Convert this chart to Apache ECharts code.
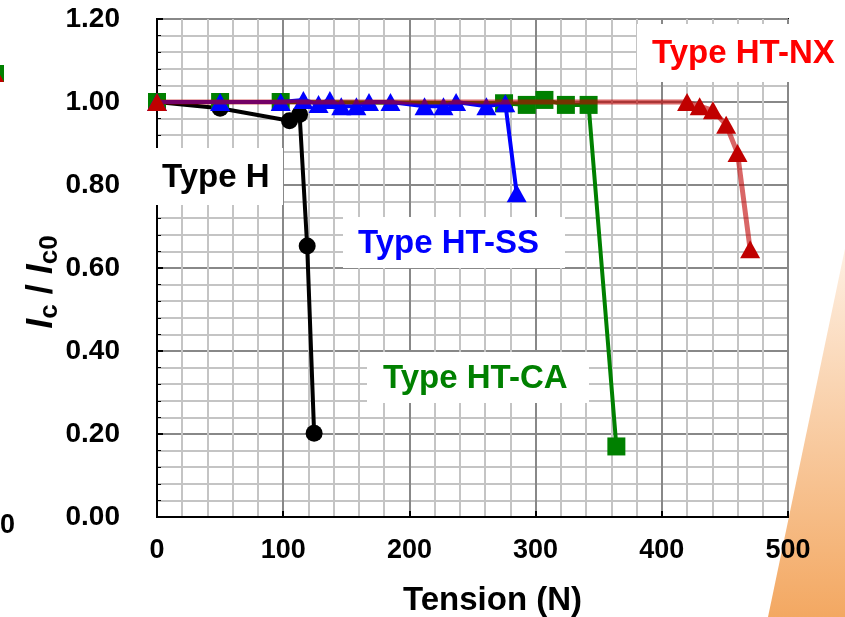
<!DOCTYPE html>
<html>
<head>
<meta charset="utf-8">
<script src="https://cdn.jsdelivr.net/npm/echarts@6/dist/echarts.min.js"></script>
<style>
html,body{margin:0;padding:0;background:#fff;}
#chart{width:845px;height:617px;}
</style>
</head>
<body>
<div id="chart"></div>
<script>
// Tension (N), Ic/Ic0
const typeH    = [[0,1.0],[50,0.985],[105,0.955],[113,0.97],[119,0.653],[124.5,0.202]];
const typeHTCA = [[0,1.0],[50,1.0],[98,1.0],[275,0.997],[293,0.993],[307,1.005],[324,0.993],[342,0.993],[364,0.17]];
const typeHTSS = [[0,1.0],[50,1.0],[98,1.0],[116,1.005],[128,0.995],[137,1.005],[146,0.99],[158,0.99],[168,1.0],[185,1.0],[212,0.99],[227,0.99],[237,1.0],[261,0.99],[276,0.997],[285,0.78]];
const typeHTNX = [[0,1.0],[420,1.0],[430,0.99],[440.5,0.98],[451,0.945],[460,0.877],[470,0.645]];
const seriesNames = ['Type H','Type HT-SS','Type HT-CA','Type HT-NX'];

const FONT = "'Liberation Sans', Arial, sans-serif";
const chart = echarts.init(document.getElementById('chart'), null, {renderer:'canvas'});

function box(x,y,w,h,label,color,tx){
  return [
    {type:'rect', z:100, shape:{x:x,y:y,width:w,height:h}, style:{fill:'#fff'}},
    {type:'text', z:101, x:tx, y:y+h/2+1, style:{text:label, fill:color, font:'bold 33px '+FONT, textVerticalAlign:'middle'}}
  ];
}

chart.setOption({
  animation:false,
  backgroundColor:'#fff',
  grid:{left:157, top:19, right:57, bottom:100, containLabel:false, outerBoundsMode:'none',
    show:true, borderColor:'#000', borderWidth:2, backgroundColor:'transparent'},
  xAxis:{
    type:'value', min:0, max:500, interval:100,
    axisLine:{show:true, onZero:false, lineStyle:{color:'#000', width:2}},
    axisTick:{show:true, inside:true, length:6, lineStyle:{color:'#000', width:2}},
    minorTick:{show:false, splitNumber:5},
    splitLine:{show:true, lineStyle:{color:'#888', width:2}},
    minorSplitLine:{show:true, lineStyle:{color:'#c4c4c4', width:2}},
    axisLabel:{color:'#000', fontSize:27, fontWeight:'bold', fontFamily:FONT, margin:20},
    name:'Tension (N)', nameLocation:'middle', nameGap:67,
    nameTextStyle:{color:'#000', fontSize:33, fontWeight:'bold', fontFamily:FONT, verticalAlign:'top', padding:[0,0,0,40]}
  },
  yAxis:{
    type:'value', min:0, max:1.2, interval:0.2,
    axisLine:{show:true, lineStyle:{color:'#000', width:2}},
    axisTick:{show:true, inside:true, length:6, lineStyle:{color:'#000', width:2}},
    minorTick:{show:true, splitNumber:5, length:4, lineStyle:{color:'#000', width:1}},
    splitLine:{show:true, lineStyle:{color:'#888', width:2}},
    minorSplitLine:{show:true, lineStyle:{color:'#c4c4c4', width:2}},
    axisLabel:{color:'#000', fontSize:28, fontWeight:'bold', fontFamily:FONT, margin:37, formatter:v=>v.toFixed(2)}
  },
  series:[
    {name:seriesNames[0], type:'line', data:typeH, symbol:'circle', symbolSize:17, z:2,
      itemStyle:{color:'#000'}, lineStyle:{color:'#000', width:4}},
    {name:seriesNames[2], type:'line', data:typeHTCA, symbol:'rect', symbolSize:18, z:3,
      itemStyle:{color:'#008000'}, lineStyle:{color:'#008000', width:4}},
    {name:seriesNames[1], type:'line', data:typeHTSS, symbol:'triangle', symbolSize:[20,18], z:4,
      itemStyle:{color:'#0000ff'}, lineStyle:{color:'#0000ff', width:4}},
    {name:seriesNames[3], type:'line', data:typeHTNX, symbol:'triangle', symbolSize:[20,18], z:5,
      itemStyle:{color:'#c00000'}, lineStyle:{color:'#c00000', width:5, opacity:0.6}}
  ],
  graphic:[
    {type:'polygon', z:-5, shape:{points:[[852,215],[768,617],[860,617]]},
      style:{fill:new echarts.graphic.LinearGradient(0,0,0,1,[{offset:0,color:'#fff6ee'},{offset:1,color:'#f3a862'}])}},
    ...box(130,148,153,57,'Type H','#000',162),
    ...box(343,217,222,51,'Type HT-SS','#0000ff',358),
    ...box(367,352,222,51,'Type HT-CA','#008000',383),
    ...box(637,24,210,58,'Type HT-NX','#ff0000',652),
    {type:'text', z:50, x:42, y:282, rotation:Math.PI/2,
      style:{text:'{i|I}{s|c}{t| / }{i|I}{s|c0}', textAlign:'center', textVerticalAlign:'middle',
        rich:{
          i:{fontSize:36, fontStyle:'italic', fontWeight:'bold', fontFamily:FONT, fill:'#000', color:'#000'},
          t:{fontSize:36, fontWeight:'bold', fontFamily:FONT, fill:'#000', color:'#000'},
          s:{fontSize:26, fontWeight:'bold', fontFamily:FONT, fill:'#000', color:'#000', padding:[16,0,0,0]}
        }}},
    {type:'text', z:50, x:0, y:526, style:{text:'0', font:'bold 27px '+FONT, fill:'#000', textVerticalAlign:'middle'}},
    {type:'rect', z:50, shape:{x:-14,y:65,width:18,height:17}, style:{fill:'#008000'}},
    {type:'polygon', z:51, shape:{points:[[-6,64],[4,82],[-16,82]]}, style:{fill:'#c00000'}}
  ]
});
</script>
</body>
</html>
